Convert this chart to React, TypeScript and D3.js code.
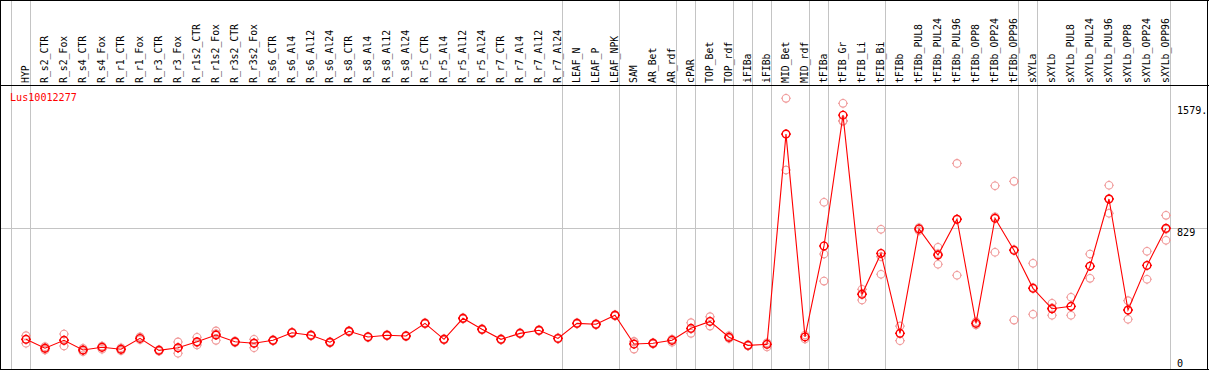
import React from "react";
import * as d3 from "d3";

const categories = [
  "HYP", "R_s2_CTR", "R_s2_Fox", "R_s4_CTR", "R_s4_Fox", "R_r1_CTR", "R_r1_Fox", "R_r3_CTR", "R_r3_Fox",
  "R_r1s2_CTR", "R_r1s2_Fox", "R_r3s2_CTR", "R_r3s2_Fox", "R_s6_CTR", "R_s6_Al4", "R_s6_Al12", "R_s6_Al24",
  "R_s8_CTR", "R_s8_Al4", "R_s8_Al12", "R_s8_Al24", "R_r5_CTR", "R_r5_Al4", "R_r5_Al12", "R_r5_Al24",
  "R_r7_CTR", "R_r7_Al4", "R_r7_Al12", "R_r7_Al24", "LEAF_N", "LEAF_P", "LEAF_NPK", "SAM", "AR_Bet", "AR_rdf",
  "cPAR", "TOP_Bet", "TOP_rdf", "iFIBa", "iFIBb", "MID_Bet", "MID_rdf", "tFIBa", "tFIB_Gr", "tFIB_Li", "tFIB_Bi",
  "tFIBb", "tFIBb_PUL8", "tFIBb_PUL24", "tFIBb_PUL96", "tFIBb_OPP8", "tFIBb_OPP24", "tFIBb_OPP96",
  "sXYLa", "sXYLb", "sXYLb_PUL8", "sXYLb_PUL24", "sXYLb_PUL96", "sXYLb_OPP8", "sXYLb_OPP24", "sXYLb_OPP96",
];

const meanValues = [
  143, 88, 137, 77, 94, 82, 149, 75, 91, 128, 170, 128, 119, 137, 184, 168, 125, 193, 158, 168, 164,
  242, 143, 273, 205, 143, 180, 199, 149, 242, 236, 292, 114, 119, 137, 211, 254, 156, 106, 112,
  1411, 158, 720, 1528, 421, 674, 180, 825, 664, 885, 242, 891, 693, 458, 332, 347, 595, 1010, 324, 600, 829,
];

const replicateValues = [
  [166, 143, 119], [98, 88, 77], [176, 137, 102], [88, 77, 67], [102, 94, 82], [91, 82, 73], [158, 149, 141],
  [80, 75, 70], [127, 91, 57], [156, 122, 108], [195, 178, 137], [133, 128, 123], [143, 122, 91], [141, 137, 133],
  [188, 184, 180], [172, 168, 164], [129, 125, 121], [197, 193, 189], [162, 158, 154], [172, 168, 164],
  [168, 164, 160], [246, 242, 238], [147, 143, 139], [277, 273, 269], [209, 205, 201], [147, 143, 139],
  [184, 180, 176], [203, 199, 195], [153, 149, 145], [246, 242, 238], [240, 236, 232], [296, 292, 288],
  [128, 131, 83], [123, 119, 115], [143, 143, 125], [246, 207, 180], [283, 254, 225], [166, 154, 148],
  [110, 106, 102], [122, 118, 96], [1632, 1412, 1189], [170, 159, 145], [990, 670, 503], [1601, 1494, 1490],
  [452, 427, 386], [823, 654, 545], [225, 180, 135], [833, 828, 814], [712, 673, 607], [1230, 885, 539],
  [252, 242, 232], [1092, 900, 681], [1119, 698, 262], [613, 463, 298], [366, 338, 292], [403, 346, 292],
  [670, 595, 520], [1095, 1013, 922], [382, 323, 267], [687, 599, 514], [909, 823, 755],
];

const groupStarts = [
  "HYP", "R_s2_CTR", "LEAF_N", "SAM", "cPAR", "TOP_Bet", "iFIBa", "iFIBb", "MID_Bet", "tFIBa", "tFIB_Gr",
  "tFIBb", "sXYLa", "sXYLb",
];

const geneName = "Lus10012277";
const tickValues = [1579, 829, 0];
const tickLabels = ["1579.", "829", "0"];
const gridValues = [829];

const W = 1209;
const H = 370;
const FONT = "'DejaVu Sans Mono', monospace";
const FS = 9.8;

function Marker({ cx, cy, color, sw }: { cx: number; cy: number; color: string; sw: number }) {
  const r = 3.8;
  const t = 4.9;
  return (
    <g stroke={color} strokeWidth={sw} fill="none">
      <circle cx={cx} cy={cy} r={r} />
      <line x1={cx} y1={cy - r} x2={cx} y2={cy - t} />
      <line x1={cx} y1={cy + r} x2={cx} y2={cy + t} />
      <line x1={cx - r} y1={cy} x2={cx - t} y2={cy} />
      <line x1={cx + r} y1={cy} x2={cx + t} y2={cy} />
    </g>
  );
}

export default function App() {
  const x = d3.scalePoint<string>().domain(categories).range([26, 1166]).padding(0);
  const y = d3.scaleLinear().domain([0, 1579]).range([362.5, 106.9]);
  const step = x.step();

  const line = d3
    .line<number>()
    .x((_, i) => x(categories[i]) as number)
    .y((d) => y(d));

  const vLines = groupStarts.map((g) => Math.floor((x(g) as number) - step * 0.76) + 0.5);
  vLines.push(Math.floor((x(categories[categories.length - 1]) as number) + step * 0.25) + 0.5);

  return (
    <svg width={W} height={H} style={{ position: "absolute", left: 0, top: 0, background: "#fff" }}>
      <rect x={0} y={0} width={W} height={H} fill="#fff" />
      {vLines.map((vx, i) => (
        <line key={"v" + i} x1={vx} x2={vx} y1={0} y2={369} stroke="#c4c4c4" strokeWidth={1} />
      ))}
      {gridValues.map((g) => (
        <line key={"h" + g} x1={0} x2={1208} y1={Math.round(y(g)) + 0.5} y2={Math.round(y(g)) + 0.5} stroke="#c4c4c4" strokeWidth={1} />
      ))}
      <line x1={0} x2={W} y1={0.5} y2={0.5} stroke="#000" />
      <line x1={0} x2={W} y1={85.5} y2={85.5} stroke="#000" />
      <line x1={0} x2={W} y1={369.5} y2={369.5} stroke="#000" />
      <line x1={0.5} x2={0.5} y1={0} y2={H} stroke="#000" />
      <line x1={1207.5} x2={1207.5} y1={0} y2={H} stroke="#000" />

      {categories.map((c) => (
        <text
          key={"l" + c}
          transform={`translate(${(x(c) as number) + 2.5},83) rotate(-90)`}
          fontFamily={FONT}
          fontSize={FS}
          fill="#000"
        >
          {c}
        </text>
      ))}

      <text x={10} y={100.5} fontFamily={FONT} fontSize={FS + 0.3} fill="#ff0000">
        {geneName}
      </text>

      {tickValues.map((v, i) => {
        const top = Math.min(y(v), 360);
        return (
          <text key={"t" + v} x={1177} y={top + 7.3} fontFamily={FONT} fontSize={FS + 0.3} fill="#000">
            {tickLabels[i]}
          </text>
        );
      })}

      {replicateValues.map((reps, i) =>
        reps.map((v, j) => (
          <Marker key={`r${i}-${j}`} cx={x(categories[i]) as number} cy={y(v)} color="#f09a9a" sw={1.1} />
        ))
      )}

      <path d={line(meanValues) || ""} fill="none" stroke="#ff0000" strokeWidth={1.1} />

      {meanValues.map((v, i) => (
        <Marker key={"m" + i} cx={x(categories[i]) as number} cy={y(v)} color="#ff0000" sw={1.4} />
      ))}
    </svg>
  );
}
